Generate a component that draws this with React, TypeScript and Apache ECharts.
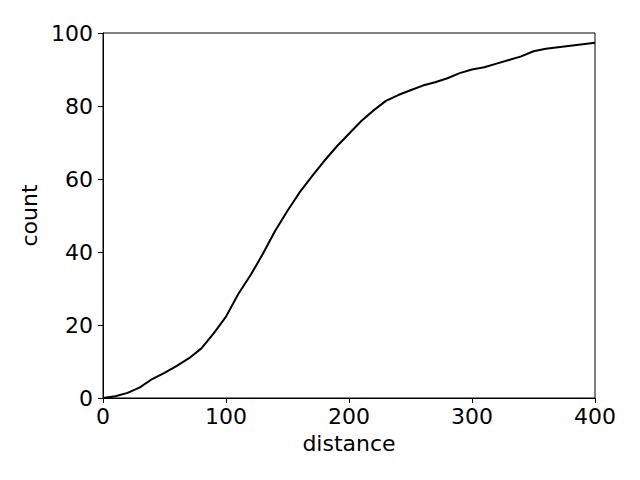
import React, { useEffect, useRef } from "react";
import * as echarts from "echarts";

const distance = [0, 10, 20, 30, 40, 50, 60, 70, 80, 90, 100, 110, 120, 130, 140, 150, 160, 170, 180, 190, 200, 210, 220, 230, 240, 250, 260, 270, 280, 290, 300, 310, 320, 330, 340, 350, 360, 370, 380, 390, 400];
const count = [0, 0.5, 1.4, 2.9, 5.2, 6.9, 8.8, 10.9, 13.6, 17.7, 22.3, 28.5, 33.7, 39.5, 45.8, 51.3, 56.4, 60.8, 65.0, 68.9, 72.4, 75.9, 78.8, 81.4, 83.0, 84.3, 85.6, 86.5, 87.6, 89.0, 90.0, 90.6, 91.6, 92.6, 93.6, 95.0, 95.7, 96.1, 96.5, 96.9, 97.3];

const FONT = "DejaVu Sans";

export default function App() {
  const ref = useRef<HTMLDivElement>(null);
  useEffect(() => {
    if (!ref.current) return;
    const chart = echarts.init(ref.current, null, { renderer: "svg" });
    const axisCommon = {
      axisLine: { show: true, onZero: false, lineStyle: { color: "#000", width: 1 } },
      axisTick: { show: true, inside: false, length: 5, lineStyle: { color: "#000", width: 1 } },
      splitLine: { show: false },
      nameTextStyle: { fontFamily: FONT, fontSize: 22, color: "#000" },
    };
    chart.setOption({
      animation: false,
      backgroundColor: "#fff",
      grid: { left: 103, top: 33, right: 45, bottom: 82, show: true, borderColor: "#000", borderWidth: 1, containLabel: false },
      xAxis: {
        type: "value",
        min: 0,
        max: 400,
        interval: 100,
        name: "distance",
        nameLocation: "middle",
        nameGap: 34,
        ...axisCommon,
        axisLabel: { fontFamily: FONT, fontSize: 22, color: "#000", margin: 7 },
      },
      yAxis: {
        type: "value",
        min: 0,
        max: 100,
        interval: 20,
        name: "count",
        nameLocation: "middle",
        nameGap: 56,
        ...axisCommon,
        axisLabel: { fontFamily: FONT, fontSize: 22, color: "#000", margin: 10 },
      },
      series: [
        {
          type: "line",
          data: distance.map((d, i) => [d, count[i]]),
          showSymbol: false,
          symbol: "none",
          lineStyle: { color: "#000", width: 2 },
          clip: true,
        },
      ],
    });
    return () => chart.dispose();
  }, []);
  return <div ref={ref} style={{ position: "fixed", left: 0, top: 0, width: 640, height: 480 }} />;
}
